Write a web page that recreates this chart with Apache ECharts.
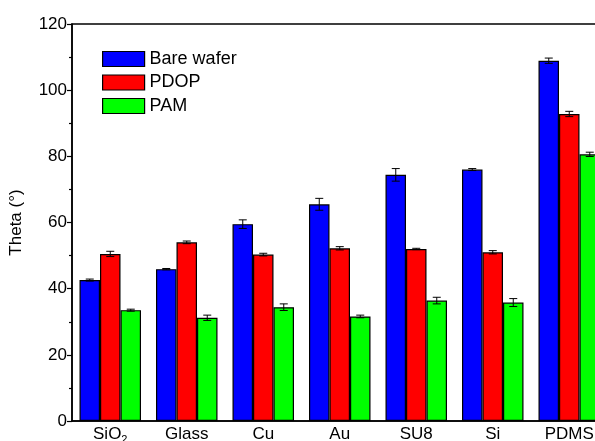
<!DOCTYPE html>
<html><head><meta charset="utf-8">
<script src="https://cdn.jsdelivr.net/npm/echarts@6/dist/echarts.min.js"></script>
<style>html,body{margin:0;padding:0;background:#fff}#c{width:595px;height:441px}</style>
</head><body><div id="c"></div>
<script>
const categories = ['SiO2', 'Glass', 'Cu', 'Au', 'SU8', 'Si', 'PDMS'];
const seriesNames = ['Bare wafer', 'PDOP', 'PAM'];
const bareWafer = [42.6, 45.9, 59.5, 65.5, 74.4, 76.0, 108.9];
const bareWaferErr = [0.3, 0.2, 1.3, 1.8, 1.9, 0.3, 0.8];
const pdop = [50.5, 54.0, 50.3, 52.2, 52.0, 51.0, 92.8];
const pdopErr = [0.8, 0.4, 0.4, 0.5, 0.2, 0.5, 0.8];
const pam = [33.5, 31.2, 34.4, 31.6, 36.4, 35.8, 80.6];
const pamErr = [0.3, 0.8, 1.0, 0.4, 1.0, 1.2, 0.65];
const yTicks = [0, 20, 40, 60, 80, 100, 120];

const colors = ['#0000ff', '#ff0000', '#00ff00'];
const values = [bareWafer, pdop, pam];
const errs = [bareWaferErr, pdopErr, pamErr];
const BW = 20.5;

const chart = echarts.init(document.getElementById('c'), null, {renderer: 'canvas'});
const series = [];
seriesNames.forEach((name, i) => {
  series.push({
    name: name, type: 'bar', data: values[i], barWidth: BW, barGap: '0%',
    itemStyle: {color: colors[i], borderColor: '#000', borderWidth: 1.2},
    z: 2
  });
});
seriesNames.forEach((name, i) => {
  series.push({
    type: 'custom', name: name + ' err',
    data: values[i].map((v, k) => [k, v - errs[i][k], v + errs[i][k]]),
    z: 5,
    renderItem: function (params, api) {
      const x = api.value(0);
      const lo = api.coord([x, api.value(1)]);
      const hi = api.coord([x, api.value(2)]);
      const cx = lo[0] + (i - 1) * BW;
      const hw = 4;
      const st = {stroke: '#000', lineWidth: 1};
      return {type: 'group', children: [
        {type: 'line', shape: {x1: cx, y1: lo[1], x2: cx, y2: hi[1]}, style: st},
        {type: 'line', shape: {x1: cx - hw, y1: lo[1], x2: cx + hw, y2: lo[1]}, style: st},
        {type: 'line', shape: {x1: cx - hw, y1: hi[1], x2: cx + hw, y2: hi[1]}, style: st}
      ]};
    }
  });
});

chart.setOption({
  animation: false,
  backgroundColor: '#fff',
  textStyle: {fontFamily: 'Liberation Sans, Arial, sans-serif'},
  grid: {left: 72, top: 24, width: 535.5, height: 397, containLabel: false, outerBoundsMode: 'none',
    show: true, borderColor: '#000', borderWidth: 1.5, backgroundColor: 'transparent'},
  legend: {
    data: seriesNames, orient: 'vertical', left: 102, top: 50, padding: 0,
    itemWidth: 42, itemHeight: 15, itemGap: 5.5,
    icon: 'rect',
    textStyle: {fontSize: 18, color: '#000', fontFamily: 'Liberation Sans'},
    itemStyle: {borderColor: '#000', borderWidth: 1.2}
  },
  xAxis: {
    type: 'category', data: categories,
    axisLine: {lineStyle: {color: '#000', width: 1.5}},
    axisTick: {show: false},
    axisLabel: {
      interval: 0, hideOverlap: false,
      color: '#000', fontSize: 17, margin: 5, fontFamily: 'Liberation Sans',
      verticalAlign: 'top',
      formatter: v => v === 'SiO2' ? '{n|SiO}{s|2}' : v,
      rich: {
        n: {fontSize: 17, color: '#000', fontFamily: 'Liberation Sans', verticalAlign: 'top'},
        s: {fontSize: 11, color: '#000', padding: [8, 0, 0, 0], fontFamily: 'Liberation Sans', verticalAlign: 'top'}
      }
    }
  },
  yAxis: {
    type: 'value', min: 0, max: 120, interval: 20,
    name: 'Theta (°)', nameLocation: 'middle', nameGap: 47, nameRotate: 90,
    nameTextStyle: {fontSize: 17, color: '#000', fontFamily: 'Liberation Sans'},
    axisLine: {show: true, lineStyle: {color: '#000', width: 1.5}},
    axisTick: {show: true, length: 5, lineStyle: {color: '#000', width: 1.2}},
    minorTick: {show: true, splitNumber: 2, length: 3, lineStyle: {color: '#000', width: 1.2}},
    splitLine: {show: false},
    axisLabel: {color: '#000', fontSize: 17, margin: 5, fontFamily: 'Liberation Sans',
      formatter: v => yTicks.includes(v) ? String(v) : ''}
  },
  series: series
});
</script></body></html>
